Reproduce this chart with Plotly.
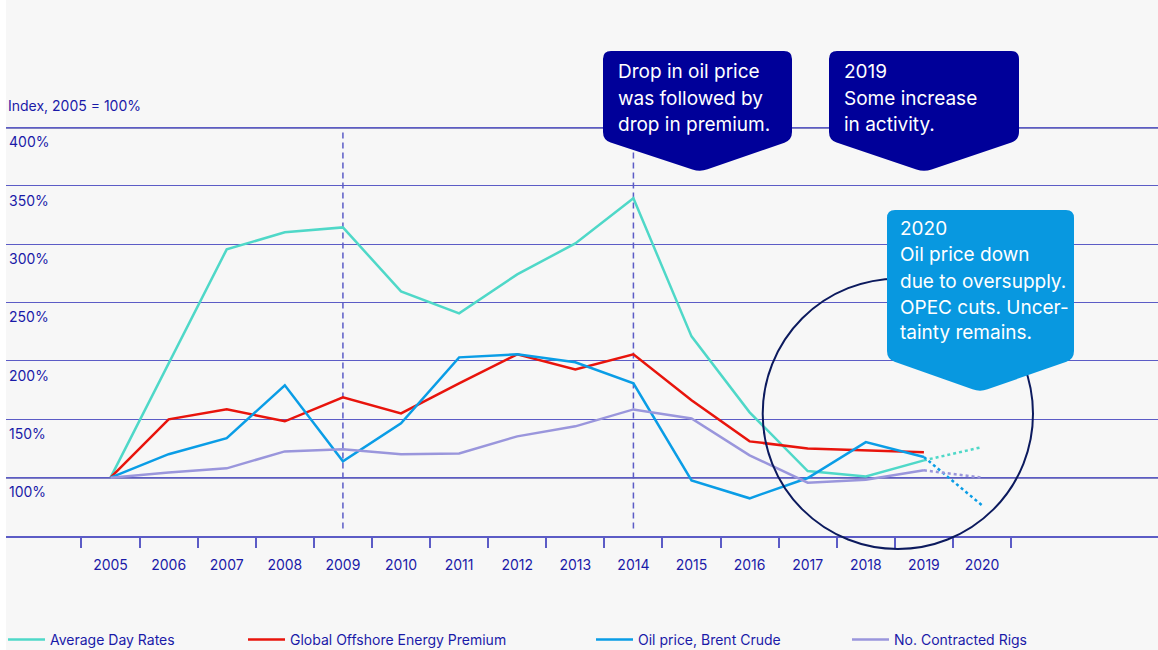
import plotly.graph_objects as go

# --- data -------------------------------------------------------------------
years = list(range(2005, 2020))
forecast_years = [2019, 2020]
tick_years = list(range(2005, 2021))

day_rates = [100, 198.0, 295.7, 310.3, 314.5, 259.7, 240.8, 274.2, 300.8, 339.4,
             221.1, 156.0, 105.7, 101.1, 114.8]
energy_premium = [100, 150.0, 158.6, 148.3, 168.8, 155.1, 180.9, 205.7, 192.8, 205.7,
                  166.3, 131.1, 125.1, 123.4, 121.7]
brent_crude = [100, 120.1, 133.8, 179.2, 114.0, 146.6, 203.1, 205.7, 198.9, 180.9,
               97.7, 82.3, 99.7, 130.5, 117.7]
contracted_rigs = [100, 104.5, 108.0, 122.5, 124.3, 120.0, 120.8, 135.4, 144.0, 158.5,
                   150.8, 119.1, 95.7, 98.3, 106.3]

# 2019 -> 2020 dotted outlook
day_rates_2020 = [114.8, 126.2]
brent_crude_2020 = [117.7, 76.3]
contracted_rigs_2020 = [106.3, 100.0]

y_ticks = [100, 150, 200, 250, 300, 350, 400]
marked_years = [2009, 2014]

# --- styling ----------------------------------------------------------------
W, H = 1158, 650
L, B = 6, 114
PW, PH = W - L, H - B
FONT = "Inter"
NAVY = "#000099"
TEXT = "#1a1aa8"
GRID = "#5c5cc6"
DARK = "#0b0b8c"
TEAL = "#4fd8c8"
RED = "#e8140c"
BLUE = "#0a9de6"
PURPLE = "#9a96dc"


def px(x):
    return (x - L) / PW


def py(y):
    return (PH - y) / PH


def rounded_path(points, r):
    """Closed SVG path in paper coords with rounded corners (points in pixels)."""
    n = len(points)
    parts = []
    for i in range(n):
        x0, y0 = points[i - 1]
        x1, y1 = points[i]
        x2, y2 = points[(i + 1) % n]
        d1 = ((x1 - x0) ** 2 + (y1 - y0) ** 2) ** 0.5
        d2 = ((x2 - x1) ** 2 + (y2 - y1) ** 2) ** 0.5
        a = (x1 + (x0 - x1) * r / d1, y1 + (y0 - y1) * r / d1)
        b = (x1 + (x2 - x1) * r / d2, y1 + (y2 - y1) * r / d2)
        parts.append(f"{'M' if i == 0 else 'L'} {px(a[0]):.5f} {py(a[1]):.5f}")
        parts.append(f"Q {px(x1):.5f} {py(y1):.5f} {px(b[0]):.5f} {py(b[1]):.5f}")
    return " ".join(parts) + " Z"


fig = go.Figure()

series = [
    ("Average Day Rates", day_rates, TEAL, "legend"),
    ("Global Offshore Energy Premium", energy_premium, RED, "legend2"),
    ("Oil price, Brent Crude", brent_crude, BLUE, "legend3"),
    ("No. Contracted Rigs", contracted_rigs, PURPLE, "legend4"),
]
for name, vals, color, leg in series:
    fig.add_trace(go.Scatter(x=years, y=vals, name=name, mode="lines",
                             line=dict(color=color, width=2.5), legend=leg))

for vals, color in [(day_rates_2020, TEAL), (brent_crude_2020, BLUE),
                    (contracted_rigs_2020, PURPLE)]:
    fig.add_trace(go.Scatter(x=forecast_years, y=vals, mode="lines", showlegend=False,
                             line=dict(color=color, width=2.5, dash="dot")))

shapes = []
# white strip on the left edge
shapes.append(dict(type="rect", xref="paper", yref="paper", x0=px(0), x1=px(L),
                   y0=py(H), y1=1, fillcolor="white", line_width=0, layer="below"))
# darker 100% and 400% lines
for v in (100, 400):
    shapes.append(dict(type="line", xref="paper", yref="y", x0=0, x1=1, y0=v, y1=v,
                       line=dict(color=DARK, width=1.5), layer="between"))
# dashed year markers
for yr in marked_years:
    shapes.append(dict(type="line", xref="x", yref="y", x0=yr, x1=yr, y0=56.5, y1=396.8,
                       line=dict(color=GRID, width=1.5, dash="6px,4px"), layer="between"))
# circle around the outlook
shapes.append(dict(type="circle", xref="paper", yref="paper",
                   x0=px(762.7), x1=px(1033), y0=py(549), y1=py(278.7),
                   line=dict(color="#0c1a5e", width=2)))
# callouts
callouts = [
    ([(603, 51), (792, 51), (792, 140), (700, 172), (603, 140)], NAVY,
     616, [71, 98, 124], ["Drop in oil price", "was followed by", "drop in premium."]),
    ([(829, 51), (1019, 51), (1019, 140), (924, 172), (829, 140)], NAVY,
     842, [71, 98, 124], ["2019", "Some increase", "in activity."]),
    ([(887, 210), (1074, 210), (1074, 359), (980, 392), (887, 359)], "#0898e0",
     898, [228, 254, 281, 307, 333],
     ["2020", "Oil price down", "due to oversupply.", "OPEC cuts. Uncer-", "tainty remains."]),
]
annotations = []
for pts, color, tx, tys, lines in callouts:
    shapes.append(dict(type="path", xref="paper", yref="paper", path=rounded_path(pts, 8),
                       fillcolor=color, line_width=0))
    for ty, line in zip(tys, lines):
        annotations.append(dict(xref="paper", yref="paper", x=px(tx), y=py(ty),
                                xanchor="left", yanchor="middle", showarrow=False,
                                text=line, font=dict(family=FONT, size=19, color="white")))

annotations.append(dict(xref="paper", yref="paper", x=px(6), y=py(106), xanchor="left",
                        yanchor="middle", showarrow=False, text="Index, 2005 = 100%",
                        font=dict(family=FONT, size=14, color=TEXT)))

legend_style = dict(orientation="h", yanchor="middle", y=py(640), xanchor="left",
                    bgcolor="rgba(0,0,0,0)", borderwidth=0, itemwidth=37,
                    font=dict(family=FONT, size=14, color=TEXT))

fig.update_layout(
    width=W, height=H,
    margin=dict(l=L, r=0, t=0, b=B, autoexpand=False),
    paper_bgcolor="#f7f7f7", plot_bgcolor="#f7f7f7",
    font=dict(family=FONT, color=TEXT),
    shapes=shapes, annotations=annotations,
    legend=dict(legend_style, x=px(8 - 5)),
    legend2=dict(legend_style, x=px(248 - 5)),
    legend3=dict(legend_style, x=px(596 - 5)),
    legend4=dict(legend_style, x=px(852 - 5)),
    xaxis=dict(
        range=[2003.201, 2023.029], tickmode="array", tickvals=tick_years,
        ticks="", showgrid=False, zeroline=False, showline=True,
        linecolor=GRID, linewidth=2, ticklabelstandoff=15,
        tickfont=dict(family=FONT, size=14, color=TEXT),
        minor=dict(tickmode="array", tickvals=[y - 0.5 for y in tick_years] + [2020.5],
                   ticks="outside", ticklen=10, tickwidth=1.5, tickcolor=GRID, showgrid=False),
    ),
    yaxis=dict(
        range=[50, 509.4], tickmode="array", tickvals=y_ticks,
        ticktext=[f"{v}%" for v in y_ticks], ticks="", showgrid=True,
        gridcolor=GRID, gridwidth=1.2, zeroline=False, showline=False,
        ticklabelposition="inside bottom", ticklabelshift=5,
        tickfont=dict(family=FONT, size=14, color=TEXT),
    ),
)

fig.write_html("out.html", config={"displayModeBar": False},
               post_script="document.body.style.margin='0';")
